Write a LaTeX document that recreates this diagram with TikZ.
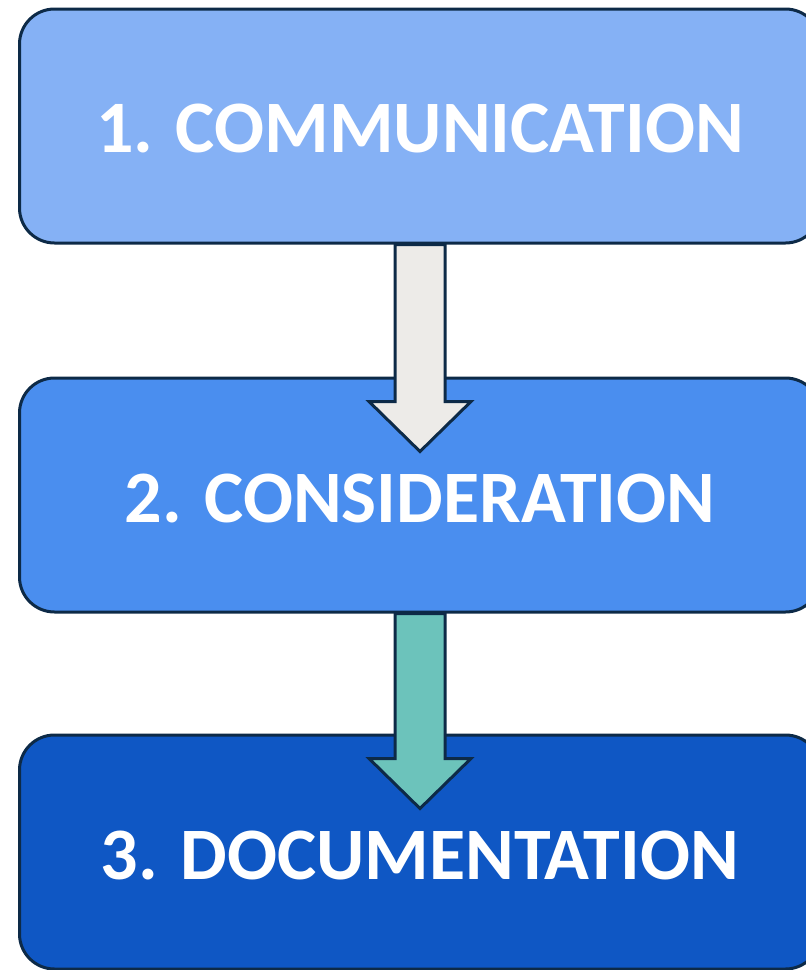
\documentclass[tikz,border=0pt]{standalone}
\usepackage{fontspec}
\setmainfont{Carlito}
\usetikzlibrary{calc}
\definecolor{edge}{HTML}{0D2A47}
\definecolor{cOne}{HTML}{85B1F5}
\definecolor{cTwo}{HTML}{4A8EEF}
\definecolor{cThree}{HTML}{0F57C4}
\definecolor{aOne}{HTML}{EDEBE8}
\definecolor{aTwo}{HTML}{6CC3BB}
\tikzset{
  stagebox/.style={draw=edge, line width=3pt, rounded corners=35pt, minimum width=801pt, minimum height=234pt, inner sep=0pt},
  stagetext/.style={text=white, font=\fontsize{74}{80}\selectfont\bfseries, inner sep=0pt},
  blockarrow/.style={draw=edge, line width=3pt, line join=miter}
}
\begin{document}
\begin{tikzpicture}[x=1pt,y=-1pt]
\useasboundingbox (0,0) rectangle (806,970);
\node[stagebox, fill=cOne] (b1) at (420,126) {};
\node[stagebox, fill=cTwo] (b2) at (420,495) {};
\node[stagebox, fill=cThree] (b3) at (420,852) {};
\node[stagetext] (l1) at ($(b1.center)+(0,3)$) {1. COMMUNICATION};
\node[stagetext] (l2) at ($(b2.center)+(0,3)$) {2. CONSIDERATION};
\node[stagetext] (l3) at ($(b3.center)+(0,3)$) {3. DOCUMENTATION};
\coordinate (t1) at ($(b2.north)+(0,75)$);
\coordinate (t2) at ($(b3.north)+(0,75)$);
\draw[blockarrow, fill=aOne] ($(b1.south)+(-25,0)$) -- ($(t1)+(-25,-50)$) -- ($(t1)+(-51,-50)$) -- (t1) -- ($(t1)+(51,-50)$) -- ($(t1)+(25,-50)$) -- ($(b1.south)+(25,0)$) -- cycle;
\draw[blockarrow, fill=aTwo] ($(b2.south)+(-25,0)$) -- ($(t2)+(-25,-50)$) -- ($(t2)+(-51,-50)$) -- (t2) -- ($(t2)+(51,-50)$) -- ($(t2)+(25,-50)$) -- ($(b2.south)+(25,0)$) -- cycle;
\end{tikzpicture}
\end{document}
